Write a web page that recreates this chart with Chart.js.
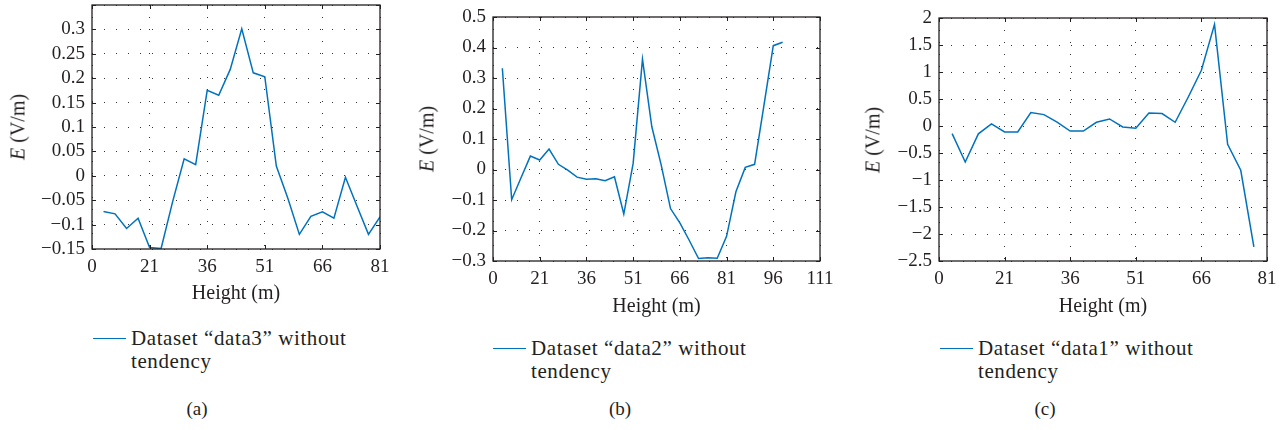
<!DOCTYPE html>
<html>
<head>
<meta charset="utf-8">
<script src="https://cdn.jsdelivr.net/npm/chart.js@4.4.1/dist/chart.umd.min.js"></script>
<style>
  body { margin: 0; background: #fff; }
  #page { position: relative; width: 1287px; height: 430px; overflow: hidden; font-family: "Liberation Serif", serif; color: #231f20; }
  #page canvas { position: absolute; top: 0; }
  .ytitle { position: absolute; font-size: 20px; white-space: nowrap; transform: translate(-50%, -50%) rotate(-90deg); }
  .legend { position: absolute; font-size: 21px; line-height: 23px; letter-spacing: 0.6px; }
  .legend .swatch { position: absolute; left: 0; top: 11px; width: 33px; border-top: 1.5px solid #0072bd; }
  .legend .text { margin-left: 38px; white-space: nowrap; }
  .caption { position: absolute; font-size: 19px; transform: translateX(-50%); }
</style>
</head>
<body>
<div id="page"></div>
<script>
// heights (m) and field values (V/m)
const heightsA = [9, 12, 15, 18, 21, 24, 27, 30, 33, 36, 39, 42, 45, 48, 51, 54, 57, 60, 63, 66, 69, 72, 75, 78, 81];
const valuesA = [-0.073, -0.078, -0.108, -0.087, -0.147, -0.149, -0.053, 0.035, 0.023, 0.175, 0.165, 0.218, 0.301, 0.211, 0.203, 0.020, -0.046, -0.120, -0.083, -0.074, -0.087, -0.003, -0.062, -0.120, -0.084];

const heightsB = [9, 12, 15, 18, 21, 24, 27, 30, 33, 36, 39, 42, 45, 48, 51, 54, 57, 60, 63, 66, 69, 72, 75, 78, 81, 84, 87, 90, 93, 96, 99];
const valuesB = [0.332, -0.099, -0.027, 0.044, 0.031, 0.067, 0.017, -0.002, -0.025, -0.032, -0.030, -0.037, -0.024, -0.146, 0.020, 0.362, 0.140, 0.015, -0.128, -0.175, -0.232, -0.292, -0.289, -0.291, -0.219, -0.073, 0.007, 0.017, 0.21, 0.406, 0.417];

const heightsC = [9, 12, 15, 18, 21, 24, 27, 30, 33, 36, 39, 42, 45, 48, 51, 54, 57, 60, 63, 66, 69, 72, 75, 78];
const valuesC = [-0.141, -0.667, -0.145, 0.04, -0.111, -0.11, 0.248, 0.211, 0.07, -0.093, -0.093, 0.069, 0.13, -0.018, -0.043, 0.241, 0.23, 0.069, 0.537, 1.031, 1.883, -0.339, -0.82, -2.24];

const xTicksA = ["0", "21", "36", "51", "66", "81"];
const xTicksB = ["0", "21", "36", "51", "66", "81", "96", "111"];
const xTicksC = ["0", "21", "36", "51", "66", "81"];

const legendA = ["Dataset \u201cdata3\u201d without", "tendency"];
const legendB = ["Dataset \u201cdata2\u201d without", "tendency"];
const legendC = ["Dataset \u201cdata1\u201d without", "tendency"];
const captions = ["(a)", "(b)", "(c)"];

const xTitle = "Height (m)";
const lineColor = "#0072bd";
const inkColor = "#231f20";
const font = "'Liberation Serif', serif";

const panels = [
    { left: 0, width: 420, area: { left: 92, right: 380, top: 5, bottom: 249 },
      heights: heightsA, values: valuesA, xTicks: xTicksA, xMin: 6, xMax: 81,
      yMin: -0.15, yMax: 0.35, yStep: 0.05, hideTop: true, titleY: 294,
      yTitleX: 18, legend: legendA, legendLeft: 93, legendTop: 327, captionX: 197 },
    { left: 420, width: 440, area: { left: 493, right: 820, top: 17, bottom: 261 },
      heights: heightsB, values: valuesB, xTicks: xTicksB, xMin: 6, xMax: 111,
      yMin: -0.3, yMax: 0.5, yStep: 0.1, hideTop: false, titleY: 307,
      yTitleX: 427, legend: legendB, legendLeft: 493, legendTop: 337, captionX: 620 },
    { left: 860, width: 427, area: { left: 939, right: 1267, top: 18, bottom: 261 },
      heights: heightsC, values: valuesC, xTicks: xTicksC, xMin: 6, xMax: 81,
      yMin: -2.5, yMax: 2, yStep: 0.5, hideTop: false, titleY: 307,
      yTitleX: 873, legend: legendC, legendLeft: 940, legendTop: 337, captionX: 1045 },
];

const canvasHeight = 320;

function fmt(v) {
    return String(Number(v.toFixed(2))).replace("-", "\u2212");
}

// MATLAB style box with inward ticks on all four sides
const boxPlugin = {
    id: "box",
    afterDraw(chart) {
        const { ctx, chartArea: a } = chart;
        const xs = chart.scales.x, ys = chart.scales.y;
        ctx.save();
        ctx.strokeStyle = inkColor;
        ctx.lineWidth = 1.3;
        ctx.strokeRect(a.left, a.top, a.right - a.left, a.bottom - a.top);
        ctx.lineWidth = 1;
        ctx.beginPath();
        xs.ticks.forEach(t => {
            const px = Math.round(xs.getPixelForValue(t.value)) + 0.5;
            ctx.moveTo(px, a.bottom); ctx.lineTo(px, a.bottom - 4);
            ctx.moveTo(px, a.top); ctx.lineTo(px, a.top + 4);
        });
        ys.ticks.forEach(t => {
            const py = Math.round(ys.getPixelForValue(t.value)) + 0.5;
            ctx.moveTo(a.left, py); ctx.lineTo(a.left + 4, py);
            ctx.moveTo(a.right, py); ctx.lineTo(a.right - 4, py);
        });
        ctx.stroke();
        ctx.restore();
    }
};

const page = document.getElementById("page");

panels.forEach((p, i) => {
    const canvas = document.createElement("canvas");
    canvas.width = p.width;
    canvas.height = canvasHeight;
    canvas.style.left = p.left + "px";
    page.appendChild(canvas);

    const areaLeft = p.area.left - p.left;
    const areaRight = p.area.right - p.left;

    new Chart(canvas.getContext("2d"), {
        type: "line",
        data: {
            datasets: [{
                data: p.heights.map((h, k) => ({ x: h, y: p.values[k] })),
                borderColor: lineColor,
                borderWidth: 1.5,
                pointRadius: 0,
                tension: 0,
                fill: false,
            }]
        },
        options: {
            responsive: false,
            animation: false,
            events: [],
            layout: { padding: { top: p.area.top, right: p.width - areaRight, left: 0, bottom: 0 } },
            plugins: { legend: { display: false }, tooltip: { enabled: false } },
            scales: {
                x: {
                    type: "linear",
                    min: p.xMin,
                    max: p.xMax,
                    border: { display: false, dash: [1, 11] },
                    grid: { color: "#333", lineWidth: 1, drawTicks: false },
                    ticks: {
                        stepSize: 15,
                        autoSkip: false,
                        maxRotation: 0,
                        padding: 7,
                        color: inkColor,
                        font: { family: font, size: 19 },
                        callback: (v, idx) => p.xTicks[idx],
                    },
                    title: {
                        display: true,
                        text: xTitle,
                        color: inkColor,
                        font: { family: font, size: 20 },
                        padding: { top: 4, bottom: canvasHeight - p.titleY - 12 },
                    },
                    afterFit: (scale) => {
                        scale.height = canvasHeight - p.area.bottom;
                        scale.paddingLeft = 0;
                        scale.paddingRight = 0;
                    },
                },
                y: {
                    min: p.yMin,
                    max: p.yMax,
                    border: { display: false, dash: [1, 11] },
                    grid: { color: "#333", lineWidth: 1, drawTicks: false },
                    ticks: {
                        stepSize: p.yStep,
                        autoSkip: false,
                        padding: 7,
                        color: inkColor,
                        font: { family: font, size: 19 },
                        callback: (v) => (p.hideTop && v >= p.yMax - 1e-9) ? "" : fmt(v),
                    },
                    afterFit: (scale) => {
                        scale.width = areaLeft;
                        scale.paddingTop = 0;
                        scale.paddingBottom = 0;
                    },
                },
            },
        },
        plugins: [boxPlugin],
    });

    const yt = document.createElement("div");
    yt.className = "ytitle";
    yt.style.left = p.yTitleX + "px";
    yt.style.top = ((p.area.top + p.area.bottom) / 2) + "px";
    yt.innerHTML = "<i>E</i> (V/m)";
    page.appendChild(yt);

    const lg = document.createElement("div");
    lg.className = "legend";
    lg.style.left = p.legendLeft + "px";
    lg.style.top = p.legendTop + "px";
    lg.innerHTML = '<div class="swatch"></div><div class="text">' + p.legend.join("<br>") + "</div>";
    page.appendChild(lg);

    const cap = document.createElement("div");
    cap.className = "caption";
    cap.style.left = p.captionX + "px";
    cap.style.top = "398px";
    cap.textContent = captions[i];
    page.appendChild(cap);
});
</script>
</body>
</html>
